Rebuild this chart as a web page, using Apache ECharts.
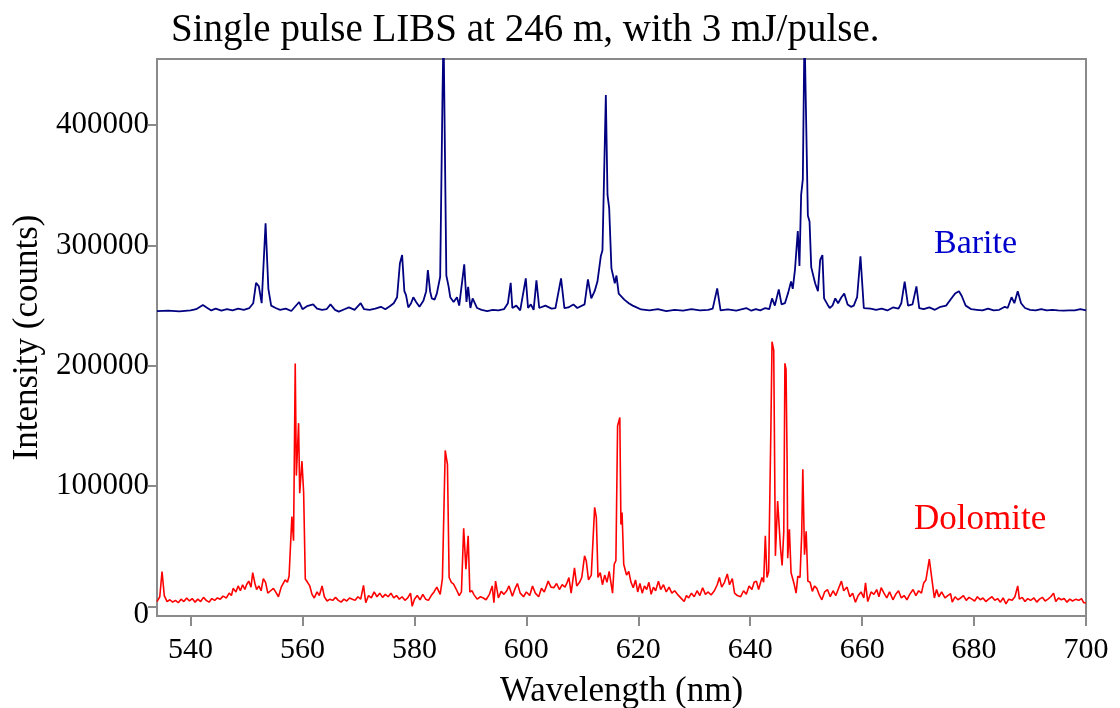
<!DOCTYPE html>
<html>
<head>
<meta charset="utf-8">
<script src="https://cdn.jsdelivr.net/npm/echarts@6/dist/echarts.min.js"></script>
<style>
html,body{margin:0;padding:0;background:#fff;}
#chart{width:1120px;height:708px;}
</style>
</head>
<body>
<div id="chart"></div>
<script>
var titleText = "Single pulse LIBS at 246 m, with 3 mJ/pulse.";
var xTicks = [540, 560, 580, 600, 620, 640, 660, 680, 700];
var yTicks = [0, 100000, 200000, 300000, 400000];
var seriesNames = ["Barite", "Dolomite"];

var bariteWl = [534,536,538,540,541,542.2,543,543.7,544.5,545.5,546.5,547.5,548.5,549.5,550.5,551.2,551.7,552.2,552.7,553.4,553.9,554.4,555.2,556,557,558,559.4,560,560.8,561.9,562.6,563.5,564.3,565,565.8,566.5,567.5,568.3,569.3,570.4,571,572,573,574,574.8,575.6,576.3,576.9,577.4,577.8,578.2,578.5,578.9,579.4,579.8,580.3,580.9,581.6,582.1,582.4,582.8,583.1,583.6,584.0,584.6,585.0,585.2,585.5,585.7,586.1,586.4,587.0,587.6,588.0,588.9,589.3,589.6,590.0,590.4,591.2,592,593,594,595,596,596.7,597.2,597.5,598.2,598.9,599.9,600.3,600.8,601.3,601.8,602.3,603.4,604.5,605.2,606.2,606.8,607.5,608.4,609.1,610.4,611.0,611.6,612.2,612.7,613.3,613.6,614.2,614.5,614.8,615.2,615.5,615.8,616.1,616.5,617.5,618.3,619.0,619.7,620.5,622,623.5,625,626.5,628,629.5,631,632.5,633.3,634.1,634.7,636,637.5,639.3,640.2,641,641.8,642.7,643.4,643.9,644.4,645.1,645.6,646.2,646.8,647.3,647.6,648.0,648.5,648.8,649.1,649.4,649.7,650.0,650.3,650.6,650.9,651.2,651.6,652.1,652.5,652.9,653.2,653.8,654.2,654.7,655.2,655.7,656.3,656.8,657.4,658.0,658.5,659.1,659.7,660.3,661.5,662.5,663.5,664.5,665.5,666.5,667.0,667.6,668.2,669.0,669.7,670.2,671,672,673,674,675,676.1,676.6,677.3,677.8,678.5,679.5,680.5,681.5,682.5,683.5,684.5,685.5,686.0,686.7,687.2,687.8,688.4,689.1,690,691,692,693,694,695,696,697,698,699,700];
var bariteI = [245500,245800,245200,246000,247000,250500,248000,246000,247500,245800,247000,246000,247500,246500,248000,252000,269000,266000,252000,318500,264000,250000,248000,246500,247500,245500,253000,247000,249500,251000,247500,246500,247000,251000,246500,245000,247000,248500,246500,252000,247000,246500,247500,249000,247000,249500,252000,257000,285000,292000,262000,258700,248500,252000,257000,253000,249000,254000,262000,279600,262000,256000,255000,260000,274000,420000,480000,480000,275000,266000,257000,253000,257000,250000,284300,253000,265700,248000,256000,248000,246500,245500,246500,246000,247000,252000,269000,248000,250000,246000,272600,248000,251000,246500,271000,248000,250000,247500,248000,272600,248000,248500,251000,248000,251000,271800,256000,262000,270000,291000,296000,425000,342000,331000,281000,280000,268600,275000,260000,255000,252000,250000,248500,246800,246000,247000,245500,246500,245800,247000,246000,246500,247500,264300,246000,246800,245800,248000,245800,247000,246000,248000,247000,256000,250000,263500,251000,252000,261000,270000,264000,280000,312000,283000,342000,355000,480000,480000,325000,320000,282000,283000,268600,262000,288000,292000,256000,251000,248000,250000,256000,252000,257000,260000,251000,249000,250000,257000,291000,248000,247500,246500,247500,246000,248500,247500,252000,270000,250000,251000,266000,248000,247000,248500,246500,249000,250000,257000,260000,262000,258000,250000,247000,246500,246000,247500,246000,246500,249000,248000,257000,252000,262000,252000,248000,246500,246000,247000,246000,246500,246000,245800,246000,246000,247000,246000];

var dolomiteWl = [534,534.5,534.9,535.3,535.8,536.3,536.8,537.3,537.8,538.3,538.8,539.3,539.8,540.3,540.8,541.3,541.8,542.3,542.8,543.3,543.8,544.3,544.8,545.3,545.8,546.4,546.9,547.3,547.6,548.1,548.5,548.9,549.3,549.7,550.0,550.4,550.8,551.1,551.5,551.8,552.2,552.6,553.0,553.4,553.8,554.3,554.8,555.2,555.7,556.2,556.9,557.3,557.6,557.9,558.1,558.4,558.7,558.9,559.3,559.5,559.9,560.2,560.5,560.9,561.3,561.7,562.1,562.6,563.0,563.5,563.9,564.4,564.9,565.4,565.9,566.4,566.9,567.4,567.9,568.4,568.9,569.4,569.9,570.4,570.9,571.3,571.8,572.3,572.8,573.3,573.8,574.3,574.8,575.3,575.8,576.3,576.8,577.3,577.8,578.3,578.8,579.3,579.6,580.0,580.5,581.0,581.5,582.0,582.5,583.0,583.5,584.0,584.6,585.0,585.3,585.5,585.9,586.2,586.6,587.0,587.5,588.0,588.4,588.8,589.2,589.6,589.9,590.3,590.6,591.2,591.8,592.3,592.8,593.4,593.9,594.2,594.5,595.0,595.5,596.0,596.5,596.9,597.5,598.0,598.4,598.9,599.5,600.0,600.6,601.1,601.6,602.2,602.7,603.2,603.9,604.4,604.9,605.4,605.9,606.4,606.9,607.3,607.6,608.0,608.6,609.0,609.5,609.9,610.4,610.7,611.1,611.6,612.2,612.5,612.8,613.2,613.6,614.0,614.4,614.8,615.4,615.7,616.0,616.3,616.7,616.9,617.1,617.4,617.9,618.3,618.7,619.1,619.5,619.9,620.3,620.7,621.1,621.5,621.9,622.3,622.7,623.1,623.6,624.0,624.5,625.0,625.5,626.0,626.5,627.0,627.3,627.8,628.2,628.6,629.0,629.5,630.0,630.5,631.0,631.5,632.0,632.5,633.0,633.6,634.1,634.5,634.9,635.4,635.9,636.3,636.8,637.2,637.7,638.3,638.8,639.3,639.8,640.3,640.7,641.1,641.5,642.1,642.4,642.7,643.0,643.3,643.7,643.9,644.2,644.5,644.7,644.9,645.2,645.4,645.7,646.0,646.2,646.4,646.6,646.7,647.0,647.3,647.8,648.2,648.5,648.9,649.2,649.4,649.7,650.0,650.3,650.7,651.1,651.5,651.9,652.3,652.8,653.3,653.8,654.3,654.8,655.3,655.8,656.3,656.7,657.3,657.8,658.3,658.8,659.3,659.8,660.3,660.6,661.0,661.6,662.1,662.6,663.0,663.4,663.9,664.4,664.9,665.5,666.0,666.5,667.0,667.5,668.0,668.5,669.1,669.6,670.1,670.6,671.0,671.4,672.0,672.4,672.9,673.3,673.7,674.2,674.8,675.3,675.8,676.1,676.6,677.1,677.6,678.1,678.6,679.1,679.6,680.1,680.6,681.1,681.6,682.1,682.6,683.2,683.7,684.2,684.7,685.2,685.7,686.2,686.8,687.3,687.8,688.1,688.6,689.1,689.6,690.1,690.7,691.2,691.7,692.2,692.7,693.2,693.7,694.2,694.6,695.1,695.6,696.1,696.6,697.1,697.6,698.2,698.7,699.2,699.6,700];
var dolomiteI = [4000,8000,29000,9000,4000,5500,3500,5000,3000,6000,4000,7000,4500,6500,3500,6000,4000,7500,5000,3500,6500,5000,7000,6000,8500,7000,11000,9000,15000,12000,17000,13000,18000,14000,18000,21000,16000,28000,19000,14000,17000,13000,23000,20000,11000,13000,15000,12000,8000,16000,22000,20000,25000,26000,74600,54600,201800,108700,152300,94000,120700,95000,22700,20000,17000,10000,7000,12000,9000,17000,8000,4500,6000,5000,7500,5000,3500,6000,4500,7000,6000,5000,8000,6000,17500,3000,9000,7000,12000,8000,11000,7500,10000,8000,11000,7000,9000,6000,8000,5000,7000,11000,0,6000,9000,5500,10000,6000,5000,9000,12000,16000,10000,23000,24000,129600,118000,24000,20000,18500,14000,9000,12000,65000,31000,58600,12000,13000,10000,6000,8000,7000,5500,10000,17000,3000,21000,7000,12500,10000,13000,17000,8500,15000,19000,11000,8000,12000,9000,17000,11000,8000,15000,12000,21000,16000,15500,19000,14000,18000,16000,20000,24000,11000,32000,17000,20000,24000,42000,38000,22000,26000,82300,74000,24000,28000,18000,26000,20000,29000,11000,35000,38000,150000,157000,68000,78000,35000,26000,29000,20000,15500,22000,12000,19000,11000,17000,14000,20000,10000,16000,13000,21000,14000,18000,12000,16000,11000,13000,10000,9500,6000,4000,9000,7000,11000,8000,13000,9000,15500,10000,12000,9500,13000,18000,24000,16000,20000,27000,18000,23000,11000,9000,8000,13000,10000,17000,14000,20000,21000,14000,24000,20000,58600,24000,29000,150000,220000,213000,42000,42600,87600,86000,49000,34000,62500,202000,197000,118000,40000,64000,28000,19500,11000,25000,24000,60000,114000,43000,62500,21000,20000,12500,17000,15000,10000,5500,12000,14000,8000,13000,9000,15000,21000,13000,16000,8000,11000,3500,9000,12000,7000,19500,4000,12000,10000,14000,8000,15500,11000,7000,12000,5500,10000,13000,7000,9000,5500,10000,14000,9000,13000,11000,19500,22000,39300,25000,7000,14000,8000,12000,7000,9000,10500,3500,8000,5500,7000,9000,5000,7500,6000,4500,8000,5500,7000,4000,6000,8000,5000,6500,3500,7000,2000,6000,5000,8000,17000,6000,7500,4000,6500,5000,7000,3500,6000,7500,4500,6000,8000,11000,4000,7000,5500,6500,3500,6000,4500,6000,5000,6500,3000,3000];

function zip(xs, ys) { return xs.map(function (x, i) { return [x, ys[i]]; }); }

var font = "'Liberation Serif', 'Times New Roman', serif";
var axisGray = '#8a8a8a';

var chart = echarts.init(document.getElementById('chart'), null, { renderer: 'canvas' });
chart.setOption({
  animation: false,
  backgroundColor: '#ffffff',
  title: {
    text: titleText,
    left: 166,
    top: 6,
    textStyle: { fontFamily: font, fontSize: 39, fontWeight: 'normal', color: '#000' }
  },
  grid: {
    left: 157, right: 34, top: 59, bottom: 92,
    outerBoundsMode: 'none',
    containLabel: false,
    show: true, borderColor: axisGray, borderWidth: 2, backgroundColor: 'transparent'
  },
  xAxis: {
    type: 'value',
    min: 534, max: 700,
    name: 'Wavelength (nm)',
    nameLocation: 'middle',
    nameGap: 58,
    nameTextStyle: { fontFamily: font, fontSize: 35, color: '#000' },
    axisLine: { show: true, onZero: false, lineStyle: { color: axisGray, width: 2 } },
    axisTick: { show: true, length: 10, customValues: xTicks, lineStyle: { color: axisGray, width: 2 } },
    axisLabel: { customValues: xTicks, margin: 19, fontFamily: font, fontSize: 30, color: '#000',
      formatter: function (v) { return String(v); } },
    splitLine: { show: false }
  },
  yAxis: {
    type: 'value',
    min: -8000, max: 455000,
    name: 'Intensity (counts)',
    nameLocation: 'middle',
    nameGap: 104,
    nameTextStyle: { fontFamily: font, fontSize: 35, color: '#000' },
    axisLine: { show: true, onZero: false, lineStyle: { color: axisGray, width: 2 } },
    axisTick: { show: true, length: 9, customValues: yTicks, lineStyle: { color: axisGray, width: 2 } },
    axisLabel: { customValues: yTicks, margin: 8, fontFamily: font, fontSize: 31, color: '#000',
      formatter: function (v) { return v === 0 ? '{z|0}' : String(v); },
      rich: { z: { fontFamily: font, fontSize: 31, color: '#000', padding: [16, 0, 0, 0] } } },
    splitLine: { show: false }
  },
  series: [
    {
      name: seriesNames[0], type: 'line', data: zip(bariteWl, bariteI),
      showSymbol: false, clip: true,
      lineStyle: { color: '#000080', width: 1.8 }
    },
    {
      name: seriesNames[1], type: 'line', data: zip(dolomiteWl, dolomiteI),
      showSymbol: false, clip: true,
      lineStyle: { color: '#ff0000', width: 1.6 }
    }
  ],
  graphic: [
    { type: 'text', left: 934, top: 227, style: { text: seriesNames[0], font: "34px 'Liberation Serif', serif", fill: '#0000cc' } },
    { type: 'text', left: 914, top: 502, style: { text: seriesNames[1], font: "35px 'Liberation Serif', serif", fill: '#ff0000' } }
  ]
});
</script>
</body>
</html>
